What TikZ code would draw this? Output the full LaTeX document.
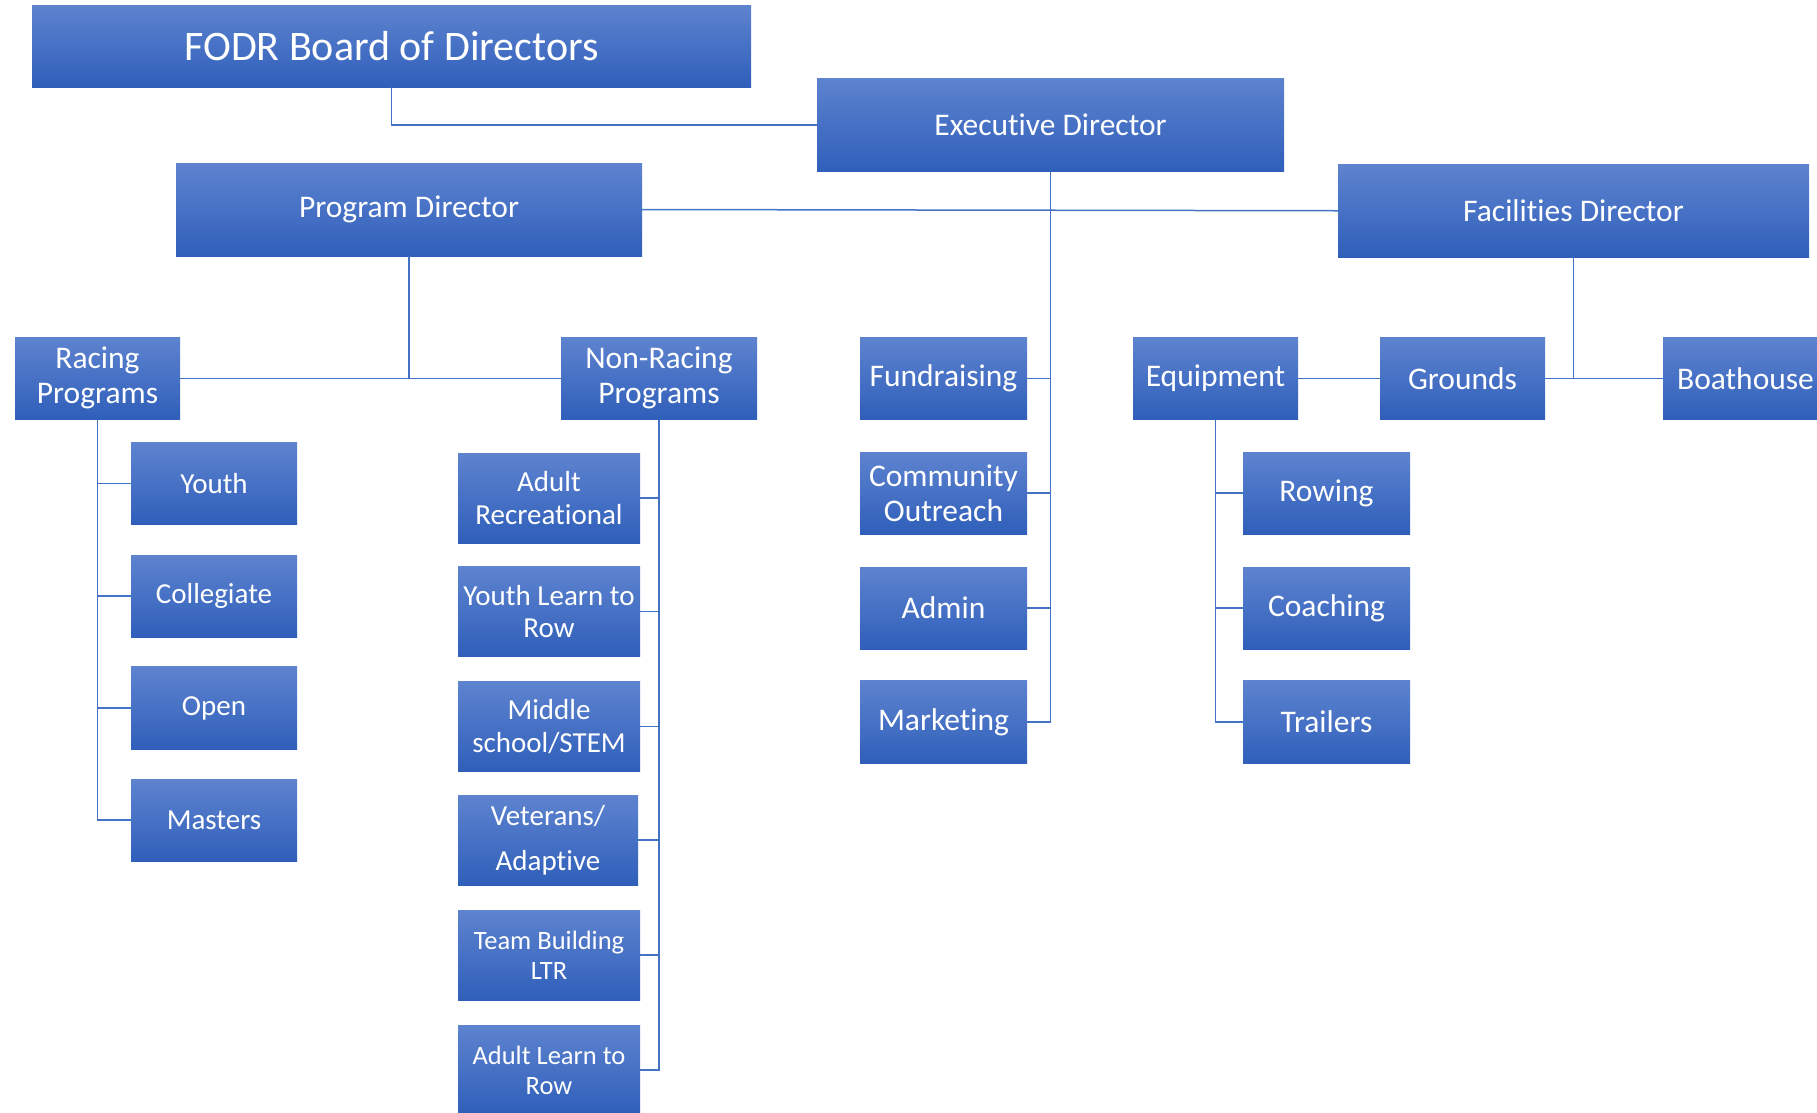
\documentclass[tikz,border=0pt]{standalone}
\usepackage{fontspec}
\setmainfont[Ligatures=NoCommon]{Carlito}
\definecolor{topc}{RGB}{94,131,207}
\definecolor{midc}{RGB}{66,114,200}
\definecolor{botc}{RGB}{47,95,186}
\definecolor{linec}{RGB}{68,114,196}
\begin{document}
\begin{tikzpicture}[x=1pt,y=-1pt,
  box/.style={rectangle, inner sep=0pt, top color=topc, middle color=midc, bottom color=botc, text=white, align=center, font=\fontsize{31.5}{35}\selectfont},
  sm/.style={font=\fontsize{29}{32.5}\selectfont},
  xs/.style={font=\fontsize{26.5}{30}\selectfont},
  conn/.style={draw=linec, line width=1.5pt}]
\useasboundingbox (0,0) rectangle (1817,1112);
% top level
\node[box, minimum width=719pt, minimum height=82pt, font=\fontsize{42}{46}\selectfont] (fodr) at (391.5,46) {FODR Board of Directors};
\node[box, minimum width=467pt, minimum height=93.5pt] (exec) at (1050.5,124.75) {Executive Director};
\node[box, minimum width=466pt, minimum height=93pt] (prog) at (409,209.5) {Program Director};
\node[box, minimum width=471pt, minimum height=92.5pt] (fac) at (1573.5,210.75) {Facilities Director};
% program level
\node[box, minimum width=165pt, minimum height=82.5pt] (racing) at (97.5,378.25) {Racing\\Programs};
\node[box, minimum width=196pt, minimum height=82.5pt] (nonracing) at (659,378.25) {Non-Racing\\Programs};
% racing children
\node[box, sm, minimum width=166pt, minimum height=82pt] (youth) at (214,483.5) {Youth};
\node[box, sm, minimum width=166pt, minimum height=82pt] (coll) at (214,596) {Collegiate};
\node[box, sm, minimum width=166pt, minimum height=83pt] (open) at (214,708) {Open};
\node[box, sm, minimum width=166pt, minimum height=82pt] (masters) at (214,820) {Masters};
% non-racing children
\node[box, sm, minimum width=182pt, minimum height=90pt] (ar) at (549,498) {Adult\\Recreational};
\node[box, sm, minimum width=182pt, minimum height=90pt] (ylr) at (549,611.5) {Youth Learn to\\Row};
\node[box, sm, minimum width=182pt, minimum height=90pt] (ms) at (549,726.5) {Middle\\school/STEM};
\node[box, sm, minimum width=180pt, minimum height=90pt, font=\fontsize{29}{45}\selectfont] (va) at (548,840) {Veterans/\\Adaptive};
\node[box, xs, minimum width=182pt, minimum height=90pt] (tb) at (549,955) {Team Building\\LTR};
\node[box, xs, minimum width=182pt, minimum height=90pt] (alr) at (549,1070) {Adult Learn to\\Row};
% executive children
\node[box, minimum width=167pt, minimum height=82.5pt] (fund) at (943.5,378.25) {Fundraising};
\node[box, minimum width=167pt, minimum height=82pt] (co) at (943.5,493) {Community\\Outreach};
\node[box, minimum width=167pt, minimum height=82pt] (admin) at (943.5,608) {Admin};
\node[box, minimum width=167pt, minimum height=83pt] (mkt) at (943.5,722) {Marketing};
% facilities children
\node[box, minimum width=165pt, minimum height=82.5pt] (equip) at (1215.5,378.25) {Equipment};
\node[box, minimum width=165pt, minimum height=82.5pt] (grounds) at (1462.5,378.25) {Grounds};
\node[box, minimum width=165pt, minimum height=82.5pt] (boat) at (1745.5,378.25) {Boathouse};
% equipment children
\node[box, minimum width=167pt, minimum height=82pt] (rowing) at (1326.5,493) {Rowing};
\node[box, minimum width=167pt, minimum height=82pt] (coach) at (1326.5,608) {Coaching};
\node[box, minimum width=167pt, minimum height=83pt] (trail) at (1326.5,722) {Trailers};
% connectors
\draw[conn] (fodr.south) |- (exec.west);
\draw[conn] (prog.east) -- (fac.west);
\draw[conn] (exec.south) |- (mkt.east);
\foreach \n in {fund,co,admin} \draw[conn] (\n.east) -- (\n.east -| exec.south);
\draw[conn] (prog.south) -- (prog.south |- racing.east);
\draw[conn] (racing.east) -- (nonracing.west);
\draw[conn] (racing.south) |- (masters.west);
\foreach \n in {youth,coll,open} \draw[conn] (\n.west) -- (\n.west -| racing.south);
\draw[conn] (nonracing.south) |- (alr.east);
\foreach \n in {ar,ylr,ms,va,tb} \draw[conn] (\n.east) -- (\n.east -| nonracing.south);
\draw[conn] (fac.south) -- (fac.south |- grounds.east);
\draw[conn] (equip.east) -- (grounds.west);
\draw[conn] (grounds.east) -- (boat.west);
\draw[conn] (equip.south) |- (trail.west);
\foreach \n in {rowing,coach} \draw[conn] (\n.west) -- (\n.west -| equip.south);
\end{tikzpicture}
\end{document}
